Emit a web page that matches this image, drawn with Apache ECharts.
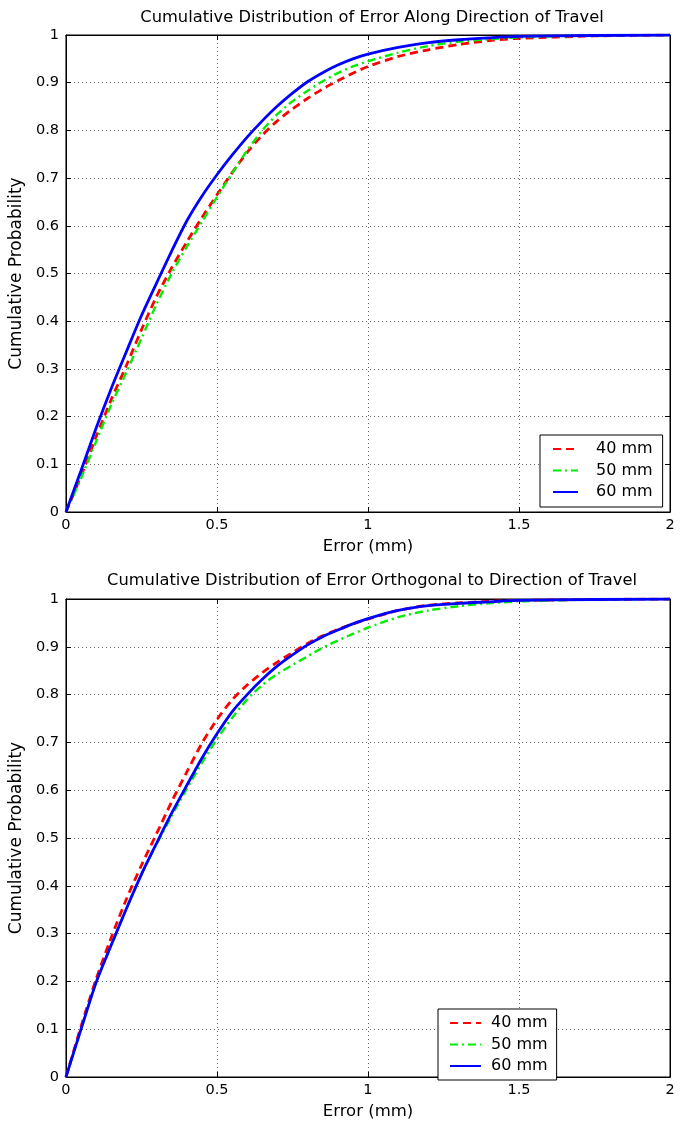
<!DOCTYPE html>
<html>
<head>
<meta charset="utf-8">
<script src="https://cdn.jsdelivr.net/npm/echarts@6/dist/echarts.min.js"></script>
<style>
html,body{margin:0;padding:0;background:#fff;}
#chart{width:687px;height:1121px;}
</style>
</head>
<body>
<div id="chart"></div>
<script>
// ---------- Data ----------
const seriesNames = ['40 mm', '50 mm', '60 mm'];
const xTicks = [0, 0.5, 1, 1.5, 2];
const yTicks = [0, 0.1, 0.2, 0.3, 0.4, 0.5, 0.6, 0.7, 0.8, 0.9, 1];

// error values (mm) at which the curves were read
const errX = [0, 0.05, 0.1, 0.15, 0.2, 0.25, 0.3, 0.35, 0.4, 0.45, 0.5, 0.55, 0.6, 0.65, 0.7, 0.75, 0.8, 0.85, 0.9, 0.95, 1.0, 1.1, 1.2, 1.3, 1.4, 1.5, 1.75, 2.0];

// Top plot: along direction of travel
const along40 = [0, 0.076, 0.158, 0.236, 0.307, 0.382, 0.452, 0.512, 0.566, 0.617, 0.665, 0.711, 0.754, 0.79, 0.82, 0.845, 0.867, 0.887, 0.904, 0.92, 0.934, 0.955, 0.969, 0.98, 0.988, 0.993, 0.998, 1.0];
const along50 = [0, 0.071, 0.148, 0.225, 0.293, 0.364, 0.436, 0.5, 0.556, 0.608, 0.66, 0.71, 0.758, 0.8, 0.834, 0.861, 0.883, 0.903, 0.92, 0.934, 0.945, 0.963, 0.977, 0.986, 0.991, 0.995, 0.999, 1.0];
const along60 = [0, 0.087, 0.176, 0.259, 0.336, 0.412, 0.48, 0.547, 0.61, 0.662, 0.707, 0.748, 0.786, 0.82, 0.851, 0.878, 0.902, 0.921, 0.937, 0.95, 0.96, 0.974, 0.984, 0.99, 0.994, 0.997, 0.999, 1.0];

// Bottom plot: orthogonal to direction of travel
const ortho40 = [0, 0.106, 0.205, 0.292, 0.372, 0.443, 0.509, 0.576, 0.638, 0.698, 0.748, 0.789, 0.82, 0.846, 0.868, 0.888, 0.907, 0.923, 0.936, 0.948, 0.958, 0.976, 0.987, 0.992, 0.995, 0.997, 0.999, 1.0];
const ortho50 = [0, 0.1, 0.198, 0.276, 0.352, 0.424, 0.487, 0.546, 0.603, 0.657, 0.707, 0.751, 0.79, 0.82, 0.843, 0.862, 0.88, 0.898, 0.913, 0.927, 0.94, 0.962, 0.976, 0.985, 0.991, 0.995, 0.999, 1.0];
const ortho60 = [0, 0.1, 0.198, 0.276, 0.352, 0.424, 0.489, 0.552, 0.61, 0.667, 0.718, 0.764, 0.8, 0.832, 0.86, 0.883, 0.904, 0.921, 0.935, 0.948, 0.959, 0.976, 0.986, 0.991, 0.994, 0.997, 0.999, 1.0];

const titles = ['Cumulative Distribution of Error Along Direction of Travel',
                'Cumulative Distribution of Error Orthogonal to Direction of Travel'];
const xName = 'Error (mm)';
const yName = 'Cumulative Probability';

// ---------- Build chart ----------
const FONT = '"DejaVu Sans", Verdana, sans-serif';
const zip = (xs, ys) => xs.map((x, i) => [x, ys[i]]);

const colors = ['#ff0000', '#00ee00', '#0000ff'];
const dashTypes = [[8, 5], [8, 4, 2, 4], 'solid'];
const widths = [2.8, 2.4, 2.8];

const grids = [
  {left: 65, top: 35, width: 605, height: 477},
  {left: 65, top: 599, width: 605, height: 479}
].map(g => Object.assign(g, {show: true, borderColor: '#000', borderWidth: 1, backgroundColor: '#fff', containLabel: false}));

const xAxes = [], yAxes = [];
[0, 1].forEach(gi => {
  xAxes.push({
    type: 'value', gridIndex: gi, min: xTicks[0], max: xTicks[xTicks.length - 1], interval: 0.5,
    name: xName, nameLocation: 'middle', nameGap: 26,
    nameTextStyle: {fontFamily: FONT, fontSize: 16.5, color: '#000'},
    axisLine: {show: true, onZero: false, lineStyle: {color: '#000', width: 1}},
    axisTick: {show: true, inside: true, length: 5, lineStyle: {color: '#000'}},
    axisLabel: {fontFamily: FONT, fontSize: 14.5, color: '#000', margin: 6},
    splitLine: {show: true, lineStyle: {type: [1, 3], color: '#666', width: 1}}
  });
  xAxes.push({
    type: 'value', gridIndex: gi, min: 0, max: 2, interval: 0.5, position: 'top',
    axisLine: {show: true, onZero: false, lineStyle: {color: '#000', width: 1}},
    axisTick: {show: true, inside: true, length: 5, lineStyle: {color: '#000'}},
    axisLabel: {show: false}, splitLine: {show: false}
  });
  yAxes.push({
    type: 'value', gridIndex: gi, min: yTicks[0], max: yTicks[yTicks.length - 1], interval: 0.1,
    name: yName, nameLocation: 'middle', nameGap: 29, nameRotate: 90,
    nameTextStyle: {fontFamily: FONT, fontSize: 17, color: '#000'},
    axisLine: {show: true, onZero: false, lineStyle: {color: '#000', width: 1}},
    axisTick: {show: true, inside: true, length: 5, lineStyle: {color: '#000'}},
    axisLabel: {fontFamily: FONT, fontSize: 14.5, color: '#000', margin: 7},
    splitLine: {show: true, lineStyle: {type: [1, 3], color: '#666', width: 1}}
  });
  yAxes.push({
    type: 'value', gridIndex: gi, min: 0, max: 1, interval: 0.1, position: 'right',
    axisLine: {show: true, onZero: false, lineStyle: {color: '#000', width: 1}},
    axisTick: {show: true, inside: true, length: 5, lineStyle: {color: '#000'}},
    axisLabel: {show: false}, splitLine: {show: false}
  });
});

const dataSets = [
  [zip(errX, along40), zip(errX, along50), zip(errX, along60)],
  [zip(errX, ortho40), zip(errX, ortho50), zip(errX, ortho60)]
];

const series = [];
[0, 1].forEach(gi => {
  seriesNames.forEach((name, si) => {
    series.push({
      type: 'line', name: name,
      xAxisIndex: gi * 2, yAxisIndex: gi * 2,
      data: dataSets[gi][si],
      showSymbol: false, symbol: 'none',
      smooth: 0.25,
      lineStyle: {color: colors[si], width: widths[si], type: dashTypes[si]},
      itemStyle: {color: colors[si]},
      z: 3 + si,
      animation: false
    });
  });
});

const legendBase = {
  orient: 'vertical', data: seriesNames,
  backgroundColor: '#fff', borderColor: '#000', borderWidth: 1,
  itemHeight: 14, itemGap: 5.5, selectedMode: false,
  itemStyle: {opacity: 0},
  textStyle: {fontFamily: FONT, fontSize: 16, color: '#000'}
};

const option = {
  animation: false,
  backgroundColor: '#fff',
  title: [
    {text: titles[0], left: 367, top: 5, textAlign: 'center',
     textStyle: {fontFamily: FONT, fontSize: 16.3, fontWeight: 'normal', color: '#000'}},
    {text: titles[1], left: 367, top: 568, textAlign: 'center',
     textStyle: {fontFamily: FONT, fontSize: 16.3, fontWeight: 'normal', color: '#000'}}
  ],
  grid: grids,
  xAxis: xAxes,
  yAxis: yAxes,
  legend: [
    Object.assign({}, legendBase, {left: 540, top: 435, itemWidth: 25, padding: [6, 10, 7, 12],
      textStyle: Object.assign({}, legendBase.textStyle, {padding: [0, 0, 0, 13]})}),
    Object.assign({}, legendBase, {left: 438, top: 1009, itemWidth: 31, padding: [6, 9, 6, 11],
      textStyle: Object.assign({}, legendBase.textStyle, {padding: [0, 0, 0, 5]})})
  ],
  series: series
};

const chart = echarts.init(document.getElementById('chart'), null, {renderer: 'canvas'});
chart.setOption(option);
</script>
</body>
</html>
